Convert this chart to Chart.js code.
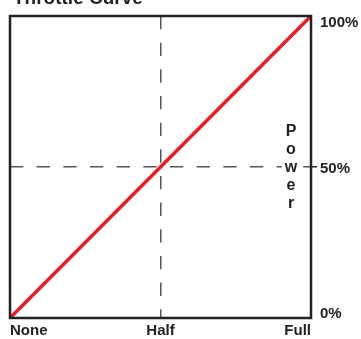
<!DOCTYPE html>
<html>
<head>
<meta charset="utf-8">
<script src="https://cdn.jsdelivr.net/npm/chart.js@4/dist/chart.umd.min.js"></script>
<style>
    html, body { margin: 0; padding: 0; background: #fff; }
    #wrap { width: 361px; height: 339px; position: relative; }
</style>
</head>
<body>
<div id="wrap"><canvas id="throttle-chart"></canvas></div>
<script>
(function () {
    const chartTitle = 'Throttle Curve';
    const throttle = [0, 100];
    const power = [0, 100];
    const xTickLabels = ['None', 'Half', 'Full'];
    const yTickLabels = ['0%', '50%', '100%'];
    const yAxisTitle = ['P', 'o', 'w', 'e', 'r'];

    const fontFamily = "'Liberation Sans', Arial, sans-serif";
    const ink = '#222';
    const dashColor = '#555';

    const midOnly = (color) => (ctx) => (ctx.tick && ctx.tick.value === 50 ? color : 'rgba(0,0,0,0)');

    // frame, title, right labels and the stacked axis word
    const decorations = {
        id: 'decorations',
        afterDatasetsDraw(chart) {
            const { ctx, chartArea } = chart;
            const yScale = chart.scales.y;
            ctx.save();

            ctx.lineWidth = 2.5;
            ctx.strokeStyle = ink;
            ctx.strokeRect(chartArea.left, chartArea.top,
                chartArea.right - chartArea.left, chartArea.bottom - chartArea.top);

            ctx.fillStyle = ink;
            ctx.font = `bold 19px ${fontFamily}`;
            ctx.textAlign = 'left';
            ctx.textBaseline = 'alphabetic';
            ctx.fillText(chartTitle, 13, 4);

            ctx.font = `bold 15px ${fontFamily}`;
            const cap = 11;
            yScale.ticks.forEach((tick, i) => {
                const py = yScale.getPixelForValue(tick.value);
                let base = py + cap / 2;
                if (tick.value === yScale.max) base = py + cap;
                if (tick.value === yScale.min) base = py;
                ctx.fillText(yTickLabels[i], chartArea.right + 9, base);
            });

            ctx.font = `bold 16px ${fontFamily}`;
            ctx.textAlign = 'center';
            const cx = chartArea.right - 20;
            const mid = yScale.getPixelForValue(50);
            yAxisTitle.forEach((letter, i) => {
                const base = mid + 4.5 + (i - 2) * 18;
                const w = ctx.measureText(letter).width;
                ctx.fillStyle = '#fff';
                ctx.fillRect(cx - w / 2 - 3, base - 12, w + 6, 13);
                ctx.fillStyle = ink;
                ctx.fillText(letter, cx, base);
            });

            ctx.restore();
        },
    };

    new Chart(document.getElementById('throttle-chart'), {
        type: 'line',
        data: {
            datasets: [
                {
                    data: throttle.map((t, i) => ({ x: t, y: power[i] })),
                    borderColor: '#e31e26',
                    borderWidth: 3.5,
                    pointRadius: 0,
                    tension: 0,
                },
            ],
        },
        options: {
            responsive: true,
            maintainAspectRatio: false,
            animation: false,
            layout: {
                padding: { top: 16, left: 10, right: 0, bottom: 0 },
            },
            plugins: {
                legend: { display: false },
                tooltip: { enabled: false },
            },
            scales: {
                x: {
                    type: 'linear',
                    position: 'bottom',
                    min: 0,
                    max: 100,
                    afterFit: (scale) => { scale.height = 21; },
                    ticks: {
                        stepSize: 50,
                        align: 'inner',
                        padding: 4,
                        color: ink,
                        font: { family: fontFamily, size: 15, weight: 'bold' },
                        callback: (value, index) => xTickLabels[index],
                    },
                    grid: {
                        color: midOnly(dashColor),
                        lineWidth: 1.5,
                        drawTicks: false,
                    },
                    border: { display: false, dash: [13.33, 13.33] },
                },
                y: {
                    type: 'linear',
                    position: 'right',
                    min: 0,
                    max: 100,
                    afterFit: (scale) => { scale.width = 50; },
                    ticks: {
                        stepSize: 50,
                        display: false,
                    },
                    grid: {
                        color: midOnly(dashColor),
                        lineWidth: 1.5,
                        drawTicks: true,
                        tickLength: 6,
                        tickColor: midOnly(ink),
                        tickWidth: 1.5,
                        tickBorderDash: [],
                    },
                    border: { display: false, dash: [13.33, 13.33] },
                },
            },
        },
        plugins: [decorations],
    });
})();
</script>
</body>
</html>
